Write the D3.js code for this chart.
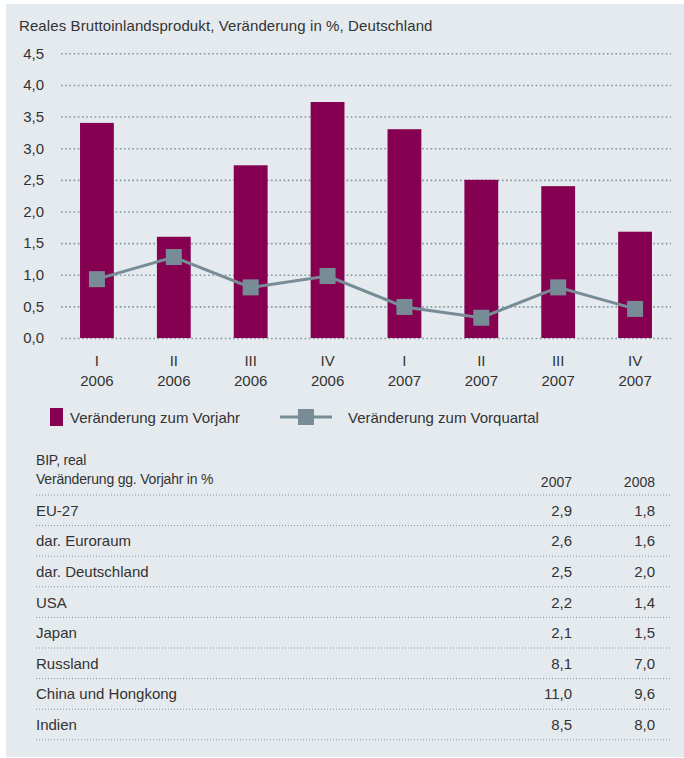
<!DOCTYPE html>
<html>
<head>
<meta charset="utf-8">
<script src="https://cdn.jsdelivr.net/npm/d3@7"></script>
<style>
  body { margin: 0; background: #fff; }
  text { font-family: "Liberation Sans", Arial, sans-serif; fill: #333; }
</style>
</head>
<body>
<div id="chart"></div>
<script>
// --- data ---
const quarters = ["I", "II", "III", "IV", "I", "II", "III", "IV"];
const years = ["2006", "2006", "2006", "2006", "2007", "2007", "2007", "2007"];
const vsPrevYear = [3.4, 1.6, 2.73, 3.73, 3.3, 2.5, 2.4, 1.68];
const vsPrevQuarter = [0.93, 1.28, 0.8, 0.98, 0.49, 0.32, 0.8, 0.46];
const yTicks = [0, 0.5, 1, 1.5, 2, 2.5, 3, 3.5, 4, 4.5];

const tableCols = ["2007", "2008"];
const countries = ["EU-27", "dar. Euroraum", "dar. Deutschland", "USA", "Japan",
    "Russland", "China und Hongkong", "Indien"];
const gdp2007 = [2.9, 2.6, 2.5, 2.2, 2.1, 8.1, 11.0, 8.5];
const gdp2008 = [1.8, 1.6, 2.0, 1.4, 1.5, 7.0, 9.6, 8.0];

const purple = "#860051";
const slate = "#788c97";
const gridCol = "#8496a1";

const de = d3.formatLocale({decimal: ",", thousands: ".", grouping: [3], currency: ["", " €"]});
const fmt = de.format(".1f");

const width = 684, height = 758;
const svg = d3.select("#chart").append("svg")
    .attr("width", width)
    .attr("height", height);

svg.append("rect")
    .attr("x", 6).attr("y", 4)
    .attr("width", width - 6).attr("height", 753)
    .attr("fill", "#e5eaee");

svg.append("text")
    .attr("x", 19).attr("y", 31)
    .style("font-size", "15px")
    .style("letter-spacing", "0.1px")
    .text("Reales Bruttoinlandsprodukt, Veränderung in %, Deutschland");

// --- chart ---
const plot = {left: 61, right: 671, top: 53.3, bottom: 338};

const x = d3.scaleBand()
    .domain(d3.range(quarters.length))
    .range([58.5, 673.5])
    .paddingInner(0.56)
    .paddingOuter(0.28);

const y = d3.scaleLinear()
    .domain([0, 4.5])
    .range([plot.bottom, plot.top]);

const yAxis = svg.append("g")
    .attr("transform", `translate(${plot.left},0)`)
    .call(d3.axisLeft(y)
        .tickValues(yTicks)
        .tickFormat(fmt)
        .tickSizeInner(-(plot.right - plot.left))
        .tickSizeOuter(0)
        .tickPadding(17));
yAxis.select(".domain").remove();
yAxis.selectAll(".tick line")
    .attr("stroke", gridCol)
    .attr("stroke-width", 1.6)
    .attr("stroke-dasharray", "1.6,2.6");
yAxis.selectAll(".tick text")
    .style("font-size", "15px")
    .attr("fill", "#333")
    .style("font-family", "\"Liberation Sans\", Arial, sans-serif");

svg.append("g").selectAll("rect")
    .data(vsPrevYear)
    .join("rect")
    .attr("x", (d, i) => x(i))
    .attr("width", x.bandwidth())
    .attr("y", d => y(d))
    .attr("height", d => y(0) - y(d))
    .attr("fill", purple);

const line = d3.line()
    .x((d, i) => x(i) + x.bandwidth() / 2)
    .y(d => y(d));

svg.append("path")
    .datum(vsPrevQuarter)
    .attr("d", line)
    .attr("fill", "none")
    .attr("stroke", slate)
    .attr("stroke-width", 3);

const sq = 16;
svg.append("g").selectAll("rect")
    .data(vsPrevQuarter)
    .join("rect")
    .attr("x", (d, i) => x(i) + x.bandwidth() / 2 - sq / 2)
    .attr("y", d => y(d) - sq / 2)
    .attr("width", sq)
    .attr("height", sq)
    .attr("fill", slate);

const xLabels = svg.append("g").selectAll("g")
    .data(quarters)
    .join("g")
    .attr("transform", (d, i) => `translate(${x(i) + x.bandwidth() / 2},0)`);
xLabels.append("text")
    .attr("y", 365.5)
    .attr("text-anchor", "middle")
    .style("font-size", "15px")
    .text(d => d);
xLabels.append("text")
    .attr("y", 385.5)
    .attr("text-anchor", "middle")
    .style("font-size", "15px")
    .text((d, i) => years[i]);

// --- legend ---
const legend = svg.append("g");
legend.append("rect")
    .attr("x", 50).attr("y", 408)
    .attr("width", 13).attr("height", 18)
    .attr("fill", purple);
legend.append("text")
    .attr("x", 70).attr("y", 423)
    .style("font-size", "15px")
    .text("Veränderung zum Vorjahr");
legend.append("line")
    .attr("x1", 280).attr("x2", 332)
    .attr("y1", 417).attr("y2", 417)
    .attr("stroke", slate)
    .attr("stroke-width", 3);
legend.append("rect")
    .attr("x", 298).attr("y", 409)
    .attr("width", 16).attr("height", 16)
    .attr("fill", slate);
legend.append("text")
    .attr("x", 348).attr("y", 423)
    .style("font-size", "15px")
    .text("Veränderung zum Vorquartal");

// --- table ---
const table = svg.append("g");
const tLeft = 36, tRight = 670;
const colRight = [572, 655];

const rowY = d3.scaleLinear()
    .domain([0, 1])
    .range([495, 525.6]);

table.append("text")
    .attr("x", tLeft).attr("y", 465)
    .style("font-size", "14px")
    .style("letter-spacing", "-0.2px")
    .text("BIP, real");
table.append("text")
    .attr("x", tLeft).attr("y", 484)
    .style("font-size", "14px")
    .style("letter-spacing", "-0.2px")
    .text("Veränderung gg. Vorjahr in %");
table.selectAll(".col-head")
    .data(tableCols)
    .join("text")
    .attr("class", "col-head")
    .attr("x", (d, i) => colRight[i])
    .attr("y", 487)
    .attr("text-anchor", "end")
    .style("font-size", "14px")
    .text(d => d);

table.selectAll(".rule")
    .data(d3.range(countries.length + 1))
    .join("line")
    .attr("class", "rule")
    .attr("x1", tLeft).attr("x2", tRight)
    .attr("y1", d => rowY(d)).attr("y2", d => rowY(d))
    .attr("stroke", gridCol)
    .attr("stroke-width", 1)
    .attr("stroke-dasharray", "1,2");

const rows = table.selectAll(".row")
    .data(countries)
    .join("g")
    .attr("class", "row")
    .attr("transform", (d, i) => `translate(0,${(rowY(i) + rowY(i + 1)) / 2})`);
rows.append("text")
    .attr("x", tLeft).attr("y", 5.5)
    .style("font-size", "15px")
    .text(d => d);
rows.append("text")
    .attr("x", colRight[0]).attr("y", 5.5)
    .attr("text-anchor", "end")
    .style("font-size", "15px")
    .text((d, i) => fmt(gdp2007[i]));
rows.append("text")
    .attr("x", colRight[1]).attr("y", 5.5)
    .attr("text-anchor", "end")
    .style("font-size", "15px")
    .text((d, i) => fmt(gdp2008[i]));
</script>
</body>
</html>
